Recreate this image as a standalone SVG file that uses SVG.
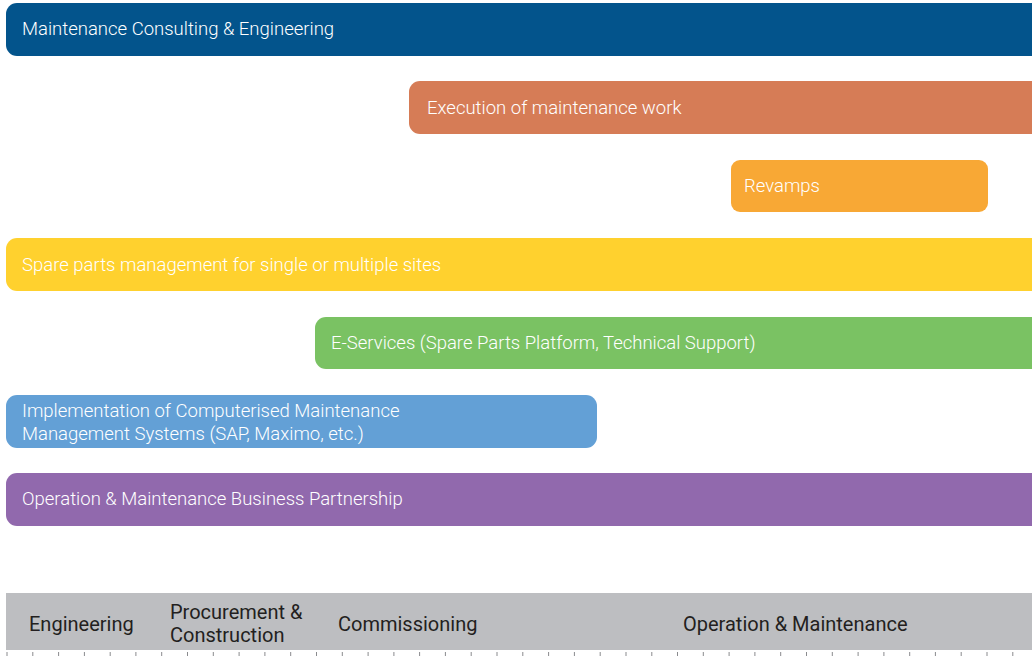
<svg xmlns="http://www.w3.org/2000/svg" width="1032" height="656" viewBox="0 0 1032 656">
<style>
.bar text{font-family:Roboto,"Liberation Sans",sans-serif;font-size:18.5px;font-weight:300;fill:#ffffff}
.phase{font-family:Roboto,"Liberation Sans",sans-serif;font-size:20px;fill:#231f20}
.tick{stroke:#8a8b8e;stroke-width:1}
</style>
<rect x="0" y="0" width="1032" height="656" fill="#ffffff"/>
<g id="mce" class="bar"><rect x="6" y="3" width="1040" height="53" rx="11" fill="#03548c"/><text x="22" y="35">Maintenance Consulting &amp; Engineering</text></g>
<g id="exec" class="bar"><rect x="409" y="81" width="640" height="53" rx="11" fill="#d67c56"/><text x="427" y="114">Execution of maintenance work</text></g>
<g id="revamps" class="bar"><rect x="731" y="160" width="257" height="52" rx="9" fill="#f8a835"/><text x="744" y="192">Revamps</text></g>
<g id="spare" class="bar"><rect x="6" y="238" width="1040" height="53" rx="11" fill="#ffd12e"/><text x="22" y="271">Spare parts management for single or multiple sites</text></g>
<g id="eserv" class="bar"><rect x="315" y="317" width="730" height="52" rx="11" fill="#7ac263"/><text x="331" y="349">E-Services (Spare Parts Platform, Technical Support)</text></g>
<g id="cmms" class="bar"><rect x="6" y="395" width="591" height="53" rx="11" fill="#63a0d6"/><text x="22" y="417">Implementation of Computerised Maintenance</text><text x="22" y="440">Management Systems (SAP, Maximo, etc.)</text></g>
<g id="omb" class="bar"><rect x="6" y="473" width="1040" height="53" rx="11" fill="#9169ad"/><text x="22" y="505">Operation &amp; Maintenance Business Partnership</text></g>
<g id="timeline">
<rect x="6" y="593" width="1030" height="57" fill="#bdbec1"/>
<text class="phase" x="29" y="631">Engineering</text>
<text class="phase" x="170" y="619">Procurement &amp;</text>
<text class="phase" x="170" y="642">Construction</text>
<text class="phase" x="338" y="631">Commissioning</text>
<text class="phase" x="683" y="631">Operation &amp; Maintenance</text>
<path class="tick" d="M7 652V656M32.8 652V656M58.6 652V656M84.4 652V656M110.2 652V656M135.9 652V656M161.7 652V656M187.5 652V656M213.3 652V656M239.1 652V656M264.9 652V656M290.7 652V656M316.5 652V656M342.3 652V656M368.1 652V656M393.9 652V656M419.6 652V656M445.4 652V656M471.2 652V656M497 652V656M522.8 652V656M548.6 652V656M574.4 652V656M600.2 652V656M626 652V656M651.8 652V656M677.5 652V656M703.3 652V656M729.1 652V656M754.9 652V656M780.7 652V656M806.5 652V656M832.3 652V656M858.1 652V656M883.9 652V656M909.7 652V656M935.4 652V656M961.2 652V656M987 652V656M1012.8 652V656"/>
</g>
</svg>
